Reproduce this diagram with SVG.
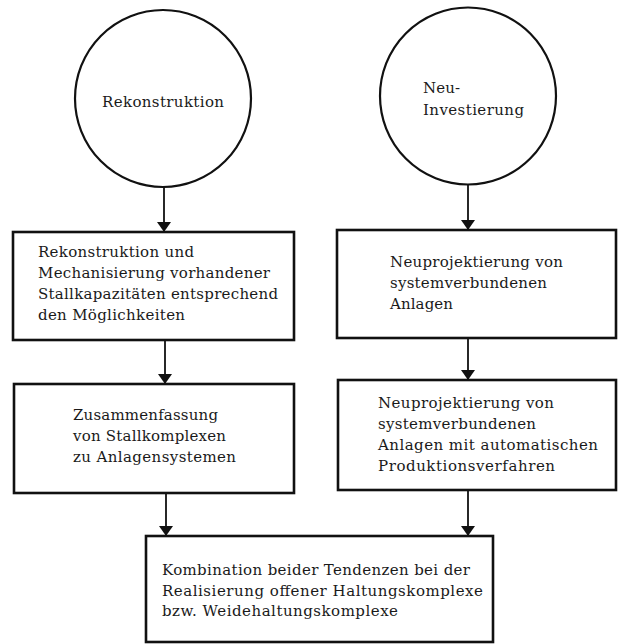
<svg xmlns="http://www.w3.org/2000/svg" width="623" height="644" viewBox="0 0 623 644">
<defs>
<style>
.bg{fill:#ffffff}
.node{fill:#ffffff;stroke:#111;stroke-width:2.6}
.circ{fill:#ffffff;stroke:#111;stroke-width:2.2}
.t{font-family:"DejaVu Serif","Liberation Serif",serif;font-size:15px;fill:#1a1a1a}
.edge{stroke:#111;stroke-width:1.8;fill:none}
</style>
<marker id="ah" viewBox="0 0 10 14" refX="10" refY="7" markerWidth="10" markerHeight="14" markerUnits="userSpaceOnUse" orient="auto">
<path d="M0,0 L10,7 L0,14 Z" fill="#111"/>
</marker>
</defs>
<rect class="bg" x="0" y="0" width="623" height="644"/>
<g id="connectors">
<line class="edge" x1="164" y1="187" x2="164" y2="232" marker-end="url(#ah)"/>
<line class="edge" x1="468" y1="184" x2="468" y2="230" marker-end="url(#ah)"/>
<line class="edge" x1="165" y1="340" x2="165" y2="384" marker-end="url(#ah)"/>
<line class="edge" x1="468" y1="338" x2="468" y2="380" marker-end="url(#ah)"/>
<line class="edge" x1="166" y1="493" x2="166" y2="536" marker-end="url(#ah)"/>
<line class="edge" x1="468" y1="490" x2="468" y2="536" marker-end="url(#ah)"/>
</g>
<g id="n-rekonstruktion">
<ellipse class="circ" cx="163" cy="98.5" rx="88" ry="88.5"/>
<text class="t" x="102" y="107" textLength="122">Rekonstruktion</text>
</g>
<g id="n-neuinvestierung">
<ellipse class="circ" cx="468" cy="96" rx="88" ry="88.5"/>
<text class="t" x="423" y="93" textLength="37">Neu-</text>
<text class="t" x="423" y="115" textLength="101">Investierung</text>
</g>
<g id="n-rekon-mech">
<rect class="node" x="13" y="232" width="281" height="108"/>
<text class="t" x="38" y="257" textLength="156">Rekonstruktion und</text>
<text class="t" x="38" y="278" textLength="232">Mechanisierung vorhandener</text>
<text class="t" x="38" y="299" textLength="240">Stallkapazitäten entsprechend</text>
<text class="t" x="38" y="320" textLength="147">den Möglichkeiten</text>
</g>
<g id="n-neuproj1">
<rect class="node" x="337" y="230" width="279" height="108"/>
<text class="t" x="390" y="267" textLength="173">Neuprojektierung von</text>
<text class="t" x="390" y="288" textLength="157">systemverbundenen</text>
<text class="t" x="390" y="309" textLength="63">Anlagen</text>
</g>
<g id="n-zusammenfassung">
<rect class="node" x="14" y="384" width="280" height="109"/>
<text class="t" x="73" y="420" textLength="145">Zusammenfassung</text>
<text class="t" x="73" y="441" textLength="153">von Stallkomplexen</text>
<text class="t" x="73" y="462" textLength="163">zu Anlagensystemen</text>
</g>
<g id="n-neuproj2">
<rect class="node" x="338" y="380" width="278" height="110"/>
<text class="t" x="378" y="408" textLength="176">Neuprojektierung von</text>
<text class="t" x="378" y="429" textLength="158">systemverbundenen</text>
<text class="t" x="378" y="450" textLength="220">Anlagen mit automatischen</text>
<text class="t" x="378" y="471" textLength="177">Produktionsverfahren</text>
</g>
<g id="n-kombination">
<rect class="node" x="146" y="536" width="347" height="106"/>
<text class="t" x="162" y="575" textLength="308">Kombination beider Tendenzen bei der</text>
<text class="t" x="162" y="596" textLength="321">Realisierung offener Haltungskomplexe</text>
<text class="t" x="162" y="616" textLength="236">bzw. Weidehaltungskomplexe</text>
</g>
</svg>
